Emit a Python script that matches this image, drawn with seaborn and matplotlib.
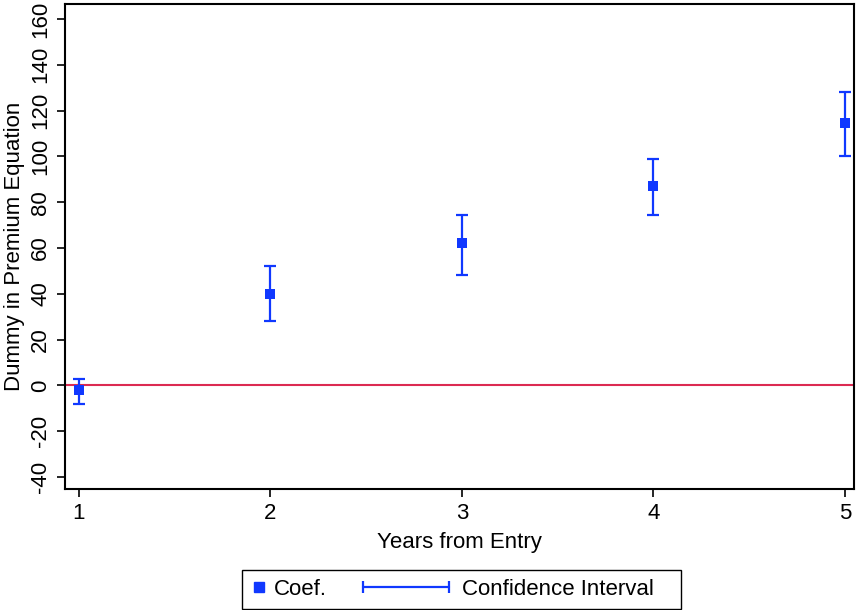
import matplotlib
matplotlib.use("Agg")
import matplotlib.pyplot as plt
from matplotlib.lines import Line2D
from matplotlib.legend_handler import HandlerLine2D
import seaborn as sns
import pandas as pd

# Estimated coefficients and 95% confidence bounds by years since entry
years = [1, 2, 3, 4, 5]
coef = [-2.0, 40.0, 62.0, 87.0, 114.5]
ci_low = [-8.0, 28.0, 48.0, 74.5, 100.0]
ci_high = [2.8, 52.0, 74.5, 99.0, 128.0]
y_ticks = [-40, -20, 0, 20, 40, 60, 80, 100, 120, 140, 160]
x_ticks = [1, 2, 3, 4, 5]

BLUE = "#1038ff"
RED = "#dc2a52"

sns.set_theme(style="white")
plt.rcParams["font.family"] = ["Liberation Sans", "DejaVu Sans"]
plt.rcParams["text.color"] = "black"
plt.rcParams["axes.labelcolor"] = "black"
plt.rcParams["xtick.color"] = "black"
plt.rcParams["ytick.color"] = "black"

df = pd.DataFrame({"year": years, "coef": coef, "lo": ci_low, "hi": ci_high})

fig = plt.figure(figsize=(8.59, 6.10), dpi=100)
ax = fig.add_axes([65 / 859, 1 - 489 / 610, (854 - 65) / 859, (489 - 4) / 610])

ax.axhline(0, color=RED, lw=1.5, zorder=1)

ax.errorbar(df["year"], df["coef"],
            yerr=[df["coef"] - df["lo"], df["hi"] - df["coef"]],
            fmt="none", ecolor=BLUE, elinewidth=1.6, capsize=4.5,
            capthick=1.6, zorder=2)
sns.scatterplot(data=df, x="year", y="coef", marker="s", s=55,
                color=BLUE, edgecolor=BLUE, linewidth=0, ax=ax, zorder=3)

ax.set_xlim(0.927, 5.047)
ax.set_ylim(-45.2, 166.5)
ax.set_xticks(x_ticks)
ax.set_yticks(y_ticks)
ax.set_xticklabels([str(v) for v in x_ticks], fontsize=16)
ax.set_yticklabels([str(v) for v in y_ticks], fontsize=16, rotation=90,
                   va="center")
ax.set_xlabel("Years from Entry", fontsize=16, labelpad=6)
ax.set_ylabel("Dummy in Premium Equation", fontsize=16, labelpad=4)
ax.tick_params(axis="both", direction="out", length=6, width=1.2,
               color="black", labelcolor="black", left=True, bottom=True,
               pad=4)

for sp in ax.spines.values():
    sp.set_visible(True)
    sp.set_color("black")
    sp.set_linewidth(1.5)


class NarrowHandler(HandlerLine2D):
    """Single-marker handle in a narrow slot, marker set near its left edge."""

    def legend_artist(self, legend, orig_handle, fontsize, handlebox):
        handlebox.width = 0.76 * fontsize
        return super().legend_artist(legend, orig_handle, fontsize, handlebox)

    def get_xdata(self, legend, xdescent, ydescent, width, height, fontsize):
        xdata = [-xdescent, -xdescent + width]
        return xdata, [-xdescent + 3.0]


coef_handle = Line2D([], [], marker="s", color=BLUE, linestyle="none",
                     markersize=7)
ci_handle = Line2D([], [], marker="|", color=BLUE, linestyle="-", lw=1.6,
                   markersize=9, markeredgewidth=1.6)

leg = fig.legend([coef_handle, ci_handle],
                 ["Coef.", "Confidence Interval   "],
                 loc="lower center", bbox_to_anchor=(0.5372, 1 / 610),
                 bbox_transform=fig.transFigure, ncol=2, fontsize=16,
                 frameon=True, fancybox=False, edgecolor="black",
                 framealpha=1, borderaxespad=0, borderpad=0.4,
                 handlelength=4.5, handletextpad=0.28, columnspacing=1.32,
                 numpoints=2,
                 handler_map={coef_handle: NarrowHandler(numpoints=1)})
leg.get_frame().set_linewidth(1.0)

fig.savefig("out.png", dpi=100)
